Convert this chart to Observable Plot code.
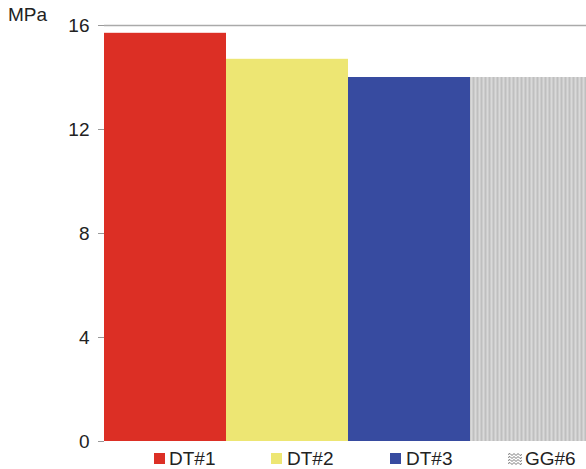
<!DOCTYPE html>
<html><head><meta charset="utf-8">
<script src="https://cdn.jsdelivr.net/npm/d3@7"></script>
<script src="https://cdn.jsdelivr.net/npm/@observablehq/plot@0.6"></script>
<style>
body{margin:0;background:#fff;font-family:"Liberation Sans",Arial,sans-serif}
#wrap{position:relative;width:586px;height:469px;overflow:hidden}
#wrap svg{position:absolute;left:0;top:0}
.unit{position:absolute;left:8px;top:4px;font-size:19px;color:#222}
.leg{position:absolute;top:448px;left:0;width:586px;height:21px;font-size:19px;color:#222}
.sw{position:absolute;top:5px;width:11px;height:11px}
.lt{position:absolute;top:0px;line-height:21px}
</style>
</head><body><div id="wrap"></div>
<script>
const categories = ["DT#1","DT#2","DT#3","GG#6"];
const values = [15.7,14.7,14.0,14.0];
const colors = ["#dc2f25","#ede673","#374ba0","url(#gg6)"];
const yTicks = [0,4,8,12,16];
const unitLabel = "MPa";
const data = categories.map((c,i)=>({category:c,value:values[i]}));

const plot = Plot.plot({
  width:586,height:469,marginLeft:104,marginRight:0,marginTop:25,marginBottom:28,
  style:{fontFamily:"Liberation Sans, Arial, sans-serif",fontSize:"19px",color:"#222",background:"transparent"},
  x:{type:"band",domain:categories,range:[104,592],padding:0,axis:null},
  y:{domain:[0,16],ticks:yTicks},
  color:{type:"ordinal",domain:categories,range:colors},
  marks:[
    Plot.barY(data,{x:"category",y:"value",fill:"category"}),
    Plot.ruleY([16],{stroke:"#aaa",strokeWidth:1.5}),
    Plot.axisY({ticks:yTicks,tickSize:6,tickPadding:9,stroke:"#999",label:null,fontSize:19})
  ]
});
d3.select(plot).insert("defs",":first-child").html(
  '<pattern id="gg6" patternUnits="userSpaceOnUse" width="4" height="8">' +
  '<rect width="4" height="8" fill="#d9d9d9"/><rect x="0.5" width="2" height="8" fill="#bfbfbf"/></pattern>');
const wrap = document.getElementById("wrap");
wrap.appendChild(plot);

const u = document.createElement("div");
u.className = "unit"; u.textContent = unitLabel;
wrap.appendChild(u);

const leg = document.createElement("div");
leg.className = "leg";
const swX = [154,271,390,508];
const txX = [169,287,406,525];
categories.forEach((c,i)=>{
  if (i < 3) {
    const s = document.createElement("div");
    s.className = "sw"; s.style.left = swX[i]+"px"; s.style.background = colors[i];
    leg.appendChild(s);
  } else {
    const s = document.createElementNS("http://www.w3.org/2000/svg","svg");
    s.setAttribute("width","14"); s.setAttribute("height","12");
    s.style.position="absolute"; s.style.left=swX[i]+"px"; s.style.top="5px";
    let h = "";
    for (let k=0;k<4;k++){ const y=1.5+k*3; h += `<polyline points="0,${y} 2,${y-1} 4,${y+1} 6,${y-1} 8,${y+1} 10,${y-1} 12,${y+1} 14,${y}" fill="none" stroke="#555" stroke-width="0.8"/>`; }
    s.innerHTML = h;
    leg.appendChild(s);
  }
  const t = document.createElement("div");
  t.className = "lt"; t.style.left = txX[i]+"px"; t.textContent = c;
  leg.appendChild(t);
});
wrap.appendChild(leg);
</script>
</body></html>
